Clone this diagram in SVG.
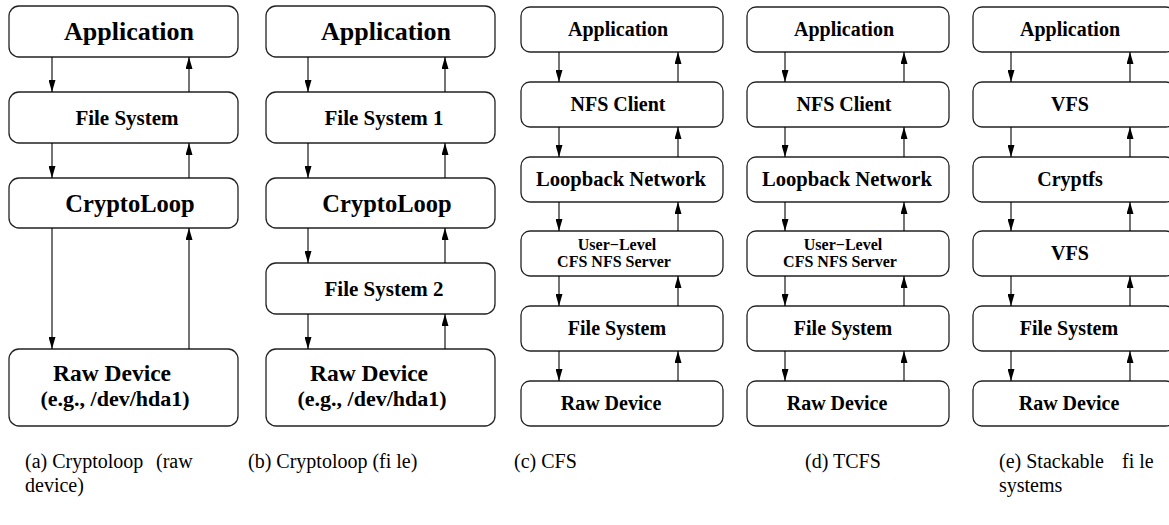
<svg xmlns="http://www.w3.org/2000/svg" width="1169" height="525" viewBox="0 0 1169 525">
<defs>
<marker id="ah" markerUnits="userSpaceOnUse" viewBox="0 0 12 7" markerWidth="12" markerHeight="7" refX="12" refY="3.5" orient="auto">
<path d="M0,0 L12,3.5 L0,7 z" fill="#000"/>
</marker>
</defs>
<style>
.box{fill:#fff;stroke:#222;stroke-width:1.3}
.t{font-family:'Liberation Serif','Times New Roman',Times,serif;font-weight:bold;fill:#000;text-anchor:middle}
.big{font-size:26px}
.cl{font-size:24.5px}
.mid{font-size:21px}
.rd{font-size:23.5px}
.hd{font-size:22px}
.sm{font-size:20px}
.lb{font-size:20.6px}
.xs{font-size:16px}
.cap{font-family:'Liberation Serif','Times New Roman',Times,serif;font-size:20px;fill:#000}
.c{stroke:#000;stroke-width:1.1;fill:none;marker-end:url(#ah)}
</style>
<g id="col-a">
<g id="a-app"><rect class="box" x="9" y="6" width="229" height="51" rx="10"/><text class="t big" x="129" y="40">Application</text></g>
<g id="a-fs"><rect class="box" x="9" y="92" width="229" height="51" rx="10"/><text class="t mid" x="127" y="125">File System</text></g>
<g id="a-cl"><rect class="box" x="9" y="178" width="229" height="50" rx="10"/><text class="t cl" x="130" y="212">CryptoLoop</text></g>
<g id="a-raw"><rect class="box" x="9" y="349" width="229" height="77" rx="10"/><text class="t rd" x="112" y="381">Raw Device</text><text class="t hd" x="115" y="406">(e.g., /dev/hda1)</text></g>
</g>
<g id="col-b">
<g id="b-app"><rect class="box" x="266" y="6" width="229" height="51" rx="10"/><text class="t big" x="386" y="40">Application</text></g>
<g id="b-fs1"><rect class="box" x="266" y="92" width="229" height="51" rx="10"/><text class="t mid" x="384" y="125">File System 1</text></g>
<g id="b-cl"><rect class="box" x="266" y="178" width="229" height="50" rx="10"/><text class="t cl" x="387" y="212">CryptoLoop</text></g>
<g id="b-fs2"><rect class="box" x="266" y="263" width="229" height="51" rx="10"/><text class="t mid" x="384" y="296">File System 2</text></g>
<g id="b-raw"><rect class="box" x="266" y="349" width="229" height="77" rx="10"/><text class="t rd" x="369" y="381">Raw Device</text><text class="t hd" x="372" y="406">(e.g., /dev/hda1)</text></g>
</g>
<g id="col-c">
<g id="c-app"><rect class="box" x="521" y="7" width="202" height="45" rx="9"/><text class="t sm" x="618" y="36">Application</text></g>
<g id="c-nfs"><rect class="box" x="521" y="82" width="202" height="45" rx="9"/><text class="t sm" x="618" y="111">NFS Client</text></g>
<g id="c-loop"><rect class="box" x="521" y="157" width="202" height="45" rx="9"/><text class="t lb" x="621" y="186">Loopback Network</text></g>
<g id="c-srv"><rect class="box" x="521" y="231" width="202" height="45" rx="9"/><text class="t xs" x="617" y="250">User−Level</text><text class="t xs" x="614" y="267">CFS NFS Server</text></g>
<g id="c-fs"><rect class="box" x="521" y="306" width="202" height="45" rx="9"/><text class="t sm" x="617" y="335">File System</text></g>
<g id="c-raw"><rect class="box" x="521" y="381" width="202" height="45" rx="9"/><text class="t sm" x="611" y="410">Raw Device</text></g>
</g>
<g id="col-d">
<g id="d-app"><rect class="box" x="747" y="7" width="202" height="45" rx="9"/><text class="t sm" x="844" y="36">Application</text></g>
<g id="d-nfs"><rect class="box" x="747" y="82" width="202" height="45" rx="9"/><text class="t sm" x="844" y="111">NFS Client</text></g>
<g id="d-loop"><rect class="box" x="747" y="157" width="202" height="45" rx="9"/><text class="t lb" x="847" y="186">Loopback Network</text></g>
<g id="d-srv"><rect class="box" x="747" y="231" width="202" height="45" rx="9"/><text class="t xs" x="843" y="250">User−Level</text><text class="t xs" x="840" y="267">CFS NFS Server</text></g>
<g id="d-fs"><rect class="box" x="747" y="306" width="202" height="45" rx="9"/><text class="t sm" x="843" y="335">File System</text></g>
<g id="d-raw"><rect class="box" x="747" y="381" width="202" height="45" rx="9"/><text class="t sm" x="837" y="410">Raw Device</text></g>
</g>
<g id="col-e">
<g id="e-app"><rect class="box" x="973" y="7" width="202" height="45" rx="9"/><text class="t sm" x="1070" y="36">Application</text></g>
<g id="e-vfs1"><rect class="box" x="973" y="82" width="202" height="45" rx="9"/><text class="t sm" x="1070" y="111">VFS</text></g>
<g id="e-crypt"><rect class="box" x="973" y="157" width="202" height="45" rx="9"/><text class="t sm" x="1070" y="186">Cryptfs</text></g>
<g id="e-vfs2"><rect class="box" x="973" y="231" width="202" height="45" rx="9"/><text class="t sm" x="1070" y="260">VFS</text></g>
<g id="e-fs"><rect class="box" x="973" y="306" width="202" height="45" rx="9"/><text class="t sm" x="1069" y="335">File System</text></g>
<g id="e-raw"><rect class="box" x="973" y="381" width="202" height="45" rx="9"/><text class="t sm" x="1069" y="410">Raw Device</text></g>
</g>
<g id="connectors">
<path class="c" d="M52,57V92"/><path class="c" d="M189,92V57"/>
<path class="c" d="M52,143V178"/><path class="c" d="M189,178V143"/>
<path class="c" d="M52,228V349"/><path class="c" d="M189,349V228"/>
<path class="c" d="M308,57V92"/><path class="c" d="M445,92V57"/>
<path class="c" d="M308,143V178"/><path class="c" d="M445,178V143"/>
<path class="c" d="M308,228V263"/><path class="c" d="M445,263V228"/>
<path class="c" d="M308,314V349"/><path class="c" d="M445,349V314"/>
<path class="c" d="M559,52V82"/><path class="c" d="M678,82V52"/>
<path class="c" d="M559,127V157"/><path class="c" d="M678,157V127"/>
<path class="c" d="M559,202V231"/><path class="c" d="M678,231V202"/>
<path class="c" d="M559,276V306"/><path class="c" d="M678,306V276"/>
<path class="c" d="M559,351V381"/><path class="c" d="M678,381V351"/>
<path class="c" d="M785,52V82"/><path class="c" d="M904,82V52"/>
<path class="c" d="M785,127V157"/><path class="c" d="M904,157V127"/>
<path class="c" d="M785,202V231"/><path class="c" d="M904,231V202"/>
<path class="c" d="M785,276V306"/><path class="c" d="M904,306V276"/>
<path class="c" d="M785,351V381"/><path class="c" d="M904,381V351"/>
<path class="c" d="M1011,52V82"/><path class="c" d="M1130,82V52"/>
<path class="c" d="M1011,127V157"/><path class="c" d="M1130,157V127"/>
<path class="c" d="M1011,202V231"/><path class="c" d="M1130,231V202"/>
<path class="c" d="M1011,276V306"/><path class="c" d="M1130,306V276"/>
<path class="c" d="M1011,351V381"/><path class="c" d="M1130,381V351"/>
</g>
<g id="captions">
<text class="cap" x="25" y="468">(a) Cryptoloop <tspan x="156">(raw</tspan></text>
<text class="cap" x="25" y="492">device)</text>
<text class="cap" x="248" y="468">(b) Cryptoloop (fi le)</text>
<text class="cap" x="514" y="468">(c) CFS</text>
<text class="cap" x="805" y="468">(d) TCFS</text>
<text class="cap" x="999" y="468">(e) Stackable <tspan x="1122">fi le</tspan></text>
<text class="cap" x="999" y="492">systems</text>
</g>
</svg>
